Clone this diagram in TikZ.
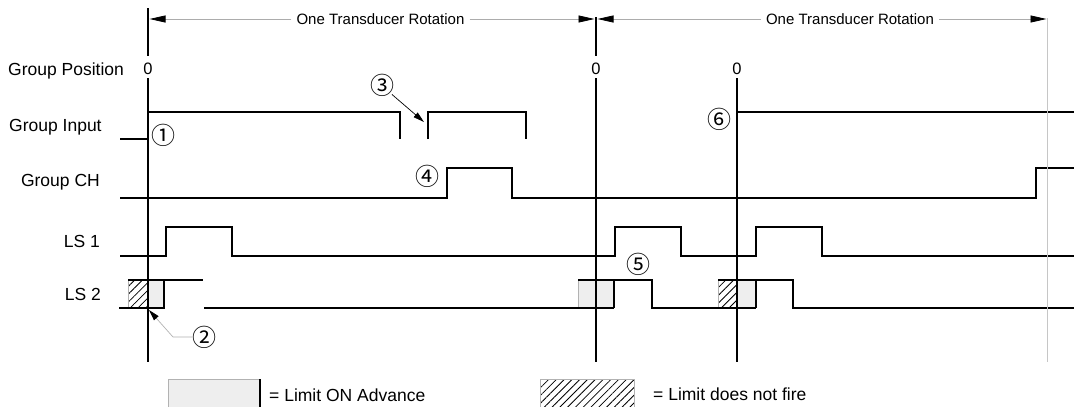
\documentclass[tikz,border=0pt]{standalone}
\usepackage{fontspec}
\setmainfont{Liberation Sans}
\newfontfamily\cjkfont{Noto Sans CJK SC}
\usetikzlibrary{arrows.meta,patterns.meta}
\begin{document}
\begin{tikzpicture}[x=1pt,y=-1pt,
  sig/.style={line width=1.3pt,black,line join=miter},
  axisline/.style={line width=2.6pt,black},
  dimline/.style={gray!65,line width=0.8pt},
  tip/.style={-{Triangle[length=16pt,width=7pt,color=black]}},
  lbl/.style={font=\fontsize{17.5}{20}\selectfont,inner sep=0pt},
  ttl/.style={font=\fontsize{15}{18}\selectfont,inner sep=0pt,inner xsep=5pt},
  zero/.style={font=\fontsize{16.5}{18}\selectfont,inner sep=0pt},
  cnum/.style={font=\cjkfont\fontsize{24}{26}\selectfont,inner sep=0pt},
  hatch/.style={pattern={Lines[angle=45,distance=5.5pt,line width=0.8pt]}},
  greyfill/.style={fill=gray!13},
  edge/.style={gray!60,line width=0.6pt}]
\clip (0,0) rectangle (1074,407);
\fill[white] (0,0) rectangle (1074,407);

% ---- left labels
\node[lbl,anchor=west] (lpos) at (8,71) {Group Position};
\node[lbl,anchor=west] (lin) at (9,127) {Group Input};
\node[lbl,anchor=east] (lch) at (100,182) {Group CH};
\node[lbl,anchor=east] (lls1) at (100,241) {LS 1};
\node[lbl,anchor=east] (lls2) at (101,294) {LS 2};

% ---- zero marks
\node[zero] (z1) at (148,69) {0};
\node[zero] (z2) at (596,69) {0};
\node[zero] (z3) at (737,69) {0};

% ---- title / dimension lines
\node[ttl] (t1) at (380.5,19) {One Transducer Rotation};
\node[ttl] (t2) at (850,19) {One Transducer Rotation};
\coordinate (d1l) at (149.5,19);
\coordinate (d1r) at (594.5,19);
\coordinate (d2l) at (597.5,19);
\coordinate (d2r) at (1046.5,19);
\draw[dimline,tip] (t1.west) -- (d1l);
\draw[dimline,tip] (t1.east) -- (d1r);
\draw[dimline,tip] (t2.west) -- (d2l);
\draw[dimline,tip] (t2.east) -- (d2r);

% ---- shaded boxes on LS 2
\fill[hatch] (128,280) rectangle (148,308);
\fill[greyfill] (148,280) rectangle (164,308);
\fill[greyfill] (578,280) rectangle (614,308);
\fill[hatch] (718,280) rectangle (737,308);
\fill[greyfill] (737,280) rectangle (756,308);
\draw[edge] (128,280) -- (128,308);
\draw[edge] (578,280) -- (578,308);
\draw[edge] (718,280) -- (718,308);

% ---- signals
% Group Input
\draw[sig] (120,139) -- (148,139);
\draw[sig] (148,112) -- (400,112) -- (400,139);
\draw[sig] (428,139) -- (428,112) -- (526,112) -- (526,139);
\draw[sig] (737,112) -- (1074,112);
% Group CH
\draw[sig] (120,198) -- (447,198) -- (447,168) -- (512,168) -- (512,198)
  -- (1036,198) -- (1036,168) -- (1074,168);
% LS 1
\draw[sig] (120,256) -- (166,256) -- (166,227) -- (232,227) -- (232,256)
  -- (615,256) -- (615,227) -- (681,227) -- (681,256)
  -- (756,256) -- (756,227) -- (822,227) -- (822,256) -- (1074,256);
% LS 2
\draw[sig] (119,308) -- (164,308) -- (164,280);
\draw[sig] (128,280) -- (203,280);
\draw[sig] (204,308) -- (614,308);
\draw[sig] (578,280) -- (652,280) -- (652,308) -- (756,308);
\draw[sig] (614,280) -- (614,308);
\draw[sig] (718,280) -- (793,280) -- (793,308) -- (1074,308);
\draw[sig] (756,280) -- (756,308);

% ---- time axes
\draw[gray!45,line width=1pt] (1047,18) -- (1047,362);
\draw[axisline] (148,8) -- (148,56);
\draw[axisline] (148,78) -- (148,362);
\draw[axisline] (596,17) -- (596,56);
\draw[axisline] (596,78) -- (596,362);
\draw[axisline] (737,78) -- (737,362);

% ---- callouts
\node[cnum] (c1) at (163,135) {①};
\node[cnum] (c2) at (204,337) {②};
\node[cnum] (c3) at (382,85) {③};
\node[cnum] (c4) at (427,176) {④};
\node[cnum] (c5) at (638,264) {⑤};
\node[cnum] (c6) at (719,119) {⑥};
\coordinate (a3) at (424,122);
\draw[black,line width=0.7pt,shorten <=-3pt,-{Triangle[length=11pt,width=6pt]}] (c3.south east) -- (a3);
\coordinate (k2) at (173,337);
\coordinate (a2) at (149,310);
\draw[gray!60,line width=0.7pt,-{Triangle[length=11pt,width=6pt,color=black]}] (c2.west) -- (k2) -- (a2);

% ---- legend
\filldraw[greyfill,draw=gray!60,line width=0.6pt] (168,379) rectangle (260,410);
\draw[black,line width=1.6pt] (260,379) -- (260,407);
\node[lbl,anchor=west] (leg1) at (269,395) {= Limit ON Advance};
\filldraw[hatch,draw=gray!60,line width=0.6pt] (540,379) rectangle (634,410);
\node[lbl,anchor=west] (leg2) at (653,394) {= Limit does not fire};
\end{tikzpicture}
\end{document}
